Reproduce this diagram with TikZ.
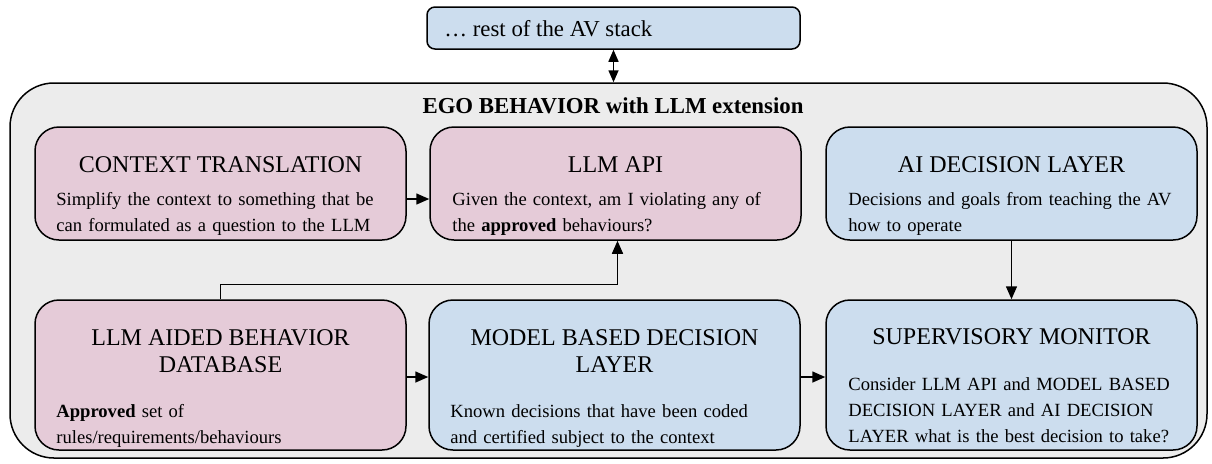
\documentclass[tikz,border=0pt]{standalone}
\usepackage{fontspec}
\setmainfont{Liberation Serif}
\usetikzlibrary{arrows.meta}
\definecolor{pinkbox}{HTML}{E5CBD8}
\definecolor{bluebox}{HTML}{CCDDEE}
\definecolor{grayfill}{HTML}{ECECEC}
\begin{document}
\begin{tikzpicture}[x=0.5pt,y=-0.5pt,
  outerbox/.style={draw, line width=0.75pt, rounded corners=22pt, fill=grayfill, minimum width=598.5pt, minimum height=187.5pt, inner sep=0pt},
  card/.style={draw, line width=0.75pt, rounded corners=12pt, inner sep=0pt, minimum width=185.5pt},
  rowone/.style={card, minimum height=56.5pt},
  rowtwo/.style={card, minimum height=75pt},
  pinkcard/.style={fill=pinkbox},
  bluecard/.style={fill=bluebox},
  ttl/.style={font=\fontsize{12}{13.5}\selectfont, align=center, inner sep=0pt},
  bodytxt/.style={font=\fontsize{9.3}{13}\selectfont, align=left, text width=200pt, anchor=base west, inner sep=0pt},
  arr/.style={-{Triangle[length=6.5pt,width=5.5pt]}, line width=0.75pt},
  dblarr/.style={{Triangle[length=6pt,width=5pt]}-{Triangle[length=6pt,width=5pt]}, line width=0.75pt}
]
\useasboundingbox (0,0) rectangle (1212,463);

% outer container
\node[outerbox] (outer) at (608.5,270.5) {};
\node[font=\bfseries\fontsize{11.4}{13.5}\selectfont, inner sep=0pt] (outertitle) at (613,106) {EGO BEHAVIOR with LLM extension};

% top box
\node[draw, line width=0.75pt, rounded corners=4pt, fill=bluebox, minimum width=186.5pt, minimum height=21pt, inner sep=0pt] (stack) at (613.5,28) {};
\node[anchor=west, inner sep=0pt, font=\fontsize{11.4}{13.5}\selectfont] (stacktext) at (444,28.5) {… rest of the AV stack};

% row 1
\node[rowone, pinkcard] (ct) at (220.5,183.5) {};
\node[rowone, pinkcard] (api) at (615.5,183.5) {};
\node[rowone, bluecard] (ai) at (1011.5,183.5) {};

% row 2
\node[rowtwo, pinkcard] (db) at (220.5,375) {};
\node[rowtwo, bluecard] (model) at (614.5,375) {};
\node[rowtwo, bluecard] (sup) at (1011.5,375) {};

% titles
\node[ttl] (cttitle) at (220.5,165) {CONTEXT TRANSLATION};
\node[ttl] (apititle) at (615.5,165) {LLM API};
\node[ttl] (aititle) at (1011.5,165) {AI DECISION LAYER};
\node[ttl] (dbtitle) at (220.5,351.5) {LLM AIDED BEHAVIOR\\DATABASE};
\node[ttl] (modeltitle) at (614.5,351.5) {MODEL BASED DECISION\\LAYER};
\node[ttl] (suptitle) at (1011.5,337) {SUPERVISORY MONITOR};

% bodies
\node[bodytxt] (ctbody) at (56,205) {Simplify the context to something that be\\can formulated as a question to the LLM};
\node[bodytxt] (apibody) at (452,205) {Given the context, am I violating any of\\the \textbf{approved} behaviours?};
\node[bodytxt] (aibody) at (848,205) {Decisions and goals from teaching the AV\\how to operate};
\node[bodytxt] (dbbody) at (56,417) {\textbf{Approved} set of\\rules/requirements/behaviours};
\node[bodytxt] (modelbody) at (450,417) {Known decisions that have been coded\\and certified subject to the context};
\node[bodytxt] (supbody) at (848,390) {Consider LLM API and MODEL BASED\\DECISION LAYER and AI DECISION\\LAYER what is the best decision to take?};

% connectors
\draw[dblarr] (stack.south) -- (stack.south |- outer.north);
\draw[arr] ([yshift=-7.75pt]ct.east) -- ([yshift=-7.75pt]api.west);
\draw[arr] (db.north) -- ++(0,-15) -| ([xshift=1pt]api.south);
\draw[arr] (ai.south) -- (sup.north);
\draw[arr] ([yshift=-1pt]db.east) -- ([yshift=-1pt]model.west);
\draw[arr] ([yshift=-1pt]model.east) -- ([yshift=-1pt]sup.west);
\end{tikzpicture}
\end{document}
